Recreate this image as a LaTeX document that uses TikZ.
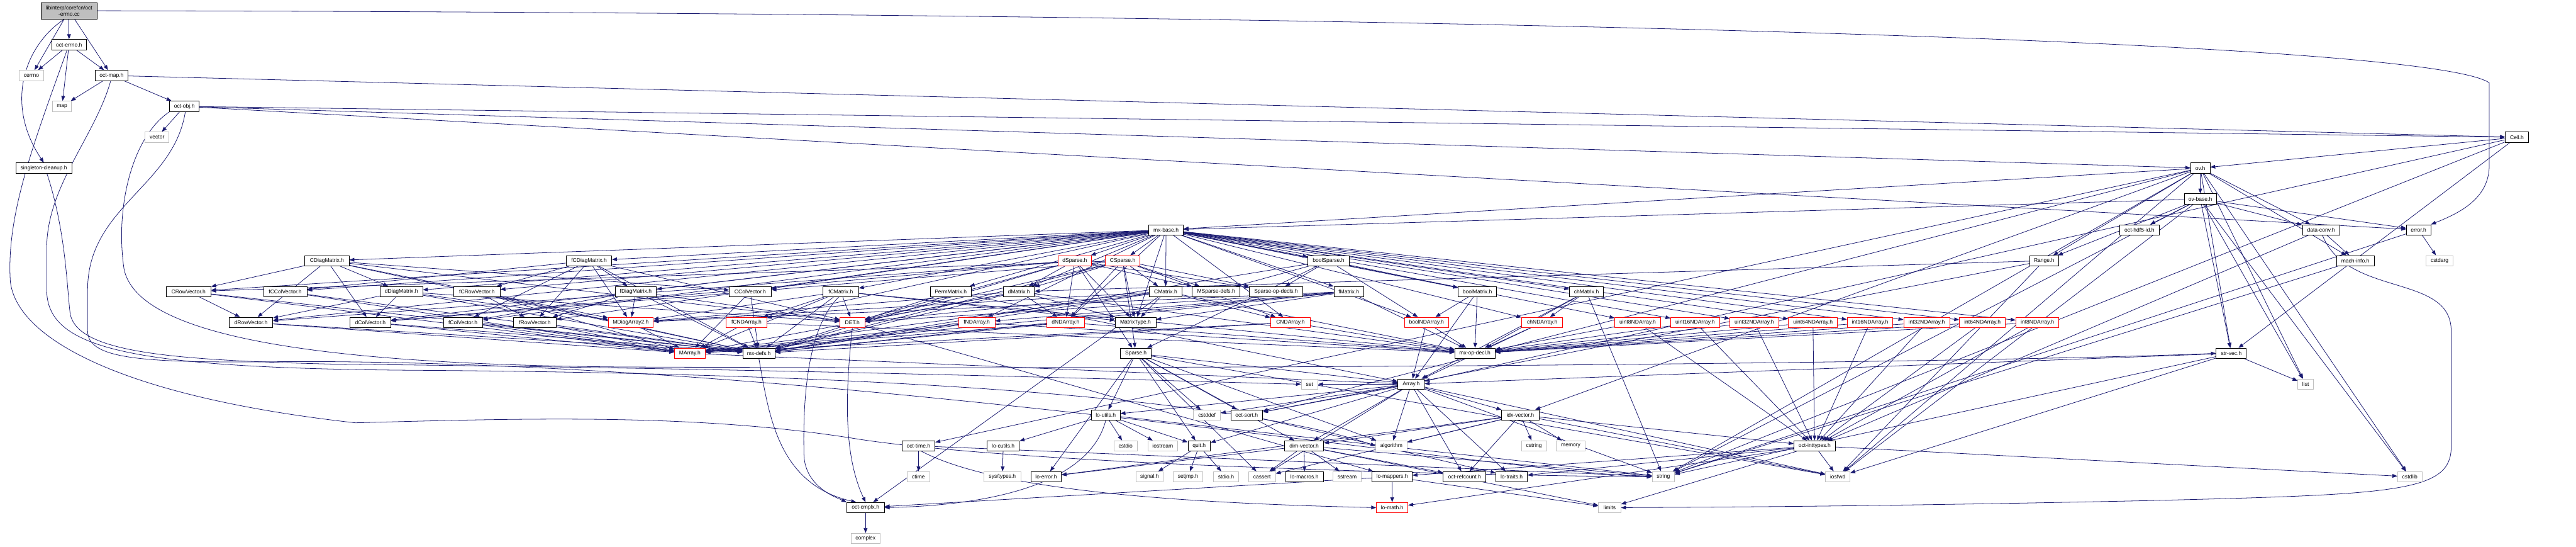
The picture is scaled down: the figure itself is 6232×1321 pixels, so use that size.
\documentclass[tikz,border=0pt]{standalone}
\usepackage{fontspec}
\setmainfont{Liberation Sans}
\usetikzlibrary{arrows.meta}
\definecolor{edgec}{RGB}{25,25,112}
\definecolor{grayb}{RGB}{191,191,191}
\pgfdeclarelayer{edges}
\pgfsetlayers{edges,main}
\newcommand\edgesfrom[2]{\foreach \tgt in {#2}{\draw[e] (#1) -- (\tgt);}}
\begin{document}
\begin{tikzpicture}[x=1pt,y=-1pt,
 nb/.style={draw=black, line width=1.3pt, fill=white, minimum height=25pt, inner sep=0pt, font=\fontsize{13pt}{15pt}\selectfont},
 gb/.style={nb, draw=grayb},
 rb/.style={nb, draw=red},
 rootb/.style={nb, fill=grayb, minimum height=40pt, align=center, font=\fontsize{13pt}{15.5pt}\selectfont},
 e/.style={draw=edgec, line width=1.2pt, -{Triangle[length=12pt,width=9pt]}}]
\useasboundingbox (0,0) rectangle (6232,1321);
% rank 0-6
\node[rootb, minimum width=136pt] (root) at (167,26) {libinterp/corefcn/oct\\-errno.cc};
\node[nb, minimum width=84pt] (oeh) at (167,108) {oct-errno.h};
\node[gb, minimum width=58pt] (cerrno) at (76,182.6) {cerrno};
\node[nb, minimum width=80pt] (omap) at (270,182.6) {oct-map.h};
\node[gb, minimum width=46pt] (map) at (150,257.2) {map};
\node[nb, minimum width=72pt] (oobj) at (446,257.2) {oct-obj.h};
\node[gb, minimum width=58pt] (vector) at (380,331.8) {vector};
\node[nb, minimum width=56pt] (cell) at (6089,331.8) {Cell.h};
\node[nb, minimum width=135pt] (sc) at (106,406.4) {singleton-cleanup.h};
\node[nb, minimum width=47pt] (ov) at (5323,406.4) {ov.h};
\node[nb, minimum width=78pt] (ovb) at (5323,481) {ov-base.h};
% rank 7
\node[nb, minimum width=83pt] (mxb) at (2821,555.6) {mx-base.h};
\node[nb, minimum width=95pt] (hdf) at (5176,555.6) {oct-hdf5-id.h};
\node[nb, minimum width=90pt] (dconv) at (5615,555.6) {data-conv.h};
\node[nb, minimum width=59pt] (err) at (5851,555.6) {error.h};
% rank 8
\node[nb, minimum width=107pt] (cdm) at (791,630.2) {CDiagMatrix.h};
\node[nb, minimum width=110pt] (fcdm) at (1425,630.2) {fCDiagMatrix.h};
\node[rb, minimum width=80pt] (dsp) at (2600,630.2) {dSparse.h};
\node[rb, minimum width=83pt] (csp) at (2716,630.2) {CSparse.h};
\node[nb, minimum width=99pt] (bsp) at (3214,630.2) {boolSparse.h};
\node[nb, minimum width=70pt] (range) at (4945,630.2) {Range.h};
\node[nb, minimum width=91pt] (mach) at (5698,630.2) {mach-info.h};
\node[gb, minimum width=65pt] (cstdarg) at (5902,630.2) {cstdarg};
% rank 9
\node[nb, minimum width=108pt] (crv) at (456,704.8) {CRowVector.h};
\node[nb, minimum width=105pt] (fccv) at (690,704.8) {fCColVector.h};
\node[nb, minimum width=103pt] (ddm) at (971,704.8) {dDiagMatrix.h};
\node[nb, minimum width=112pt] (fcrv) at (1154,704.8) {fCRowVector.h};
\node[nb, minimum width=100pt] (fdm) at (1538,704.8) {fDiagMatrix.h};
\node[nb, minimum width=101pt] (ccv) at (1815,704.8) {CColVector.h};
\node[nb, minimum width=86pt] (fcm) at (2034,704.8) {fCMatrix.h};
\node[nb, minimum width=99pt] (perm) at (2300,704.8) {PermMatrix.h};
\node[nb, minimum width=75pt] (dm) at (2465,704.8) {dMatrix.h};
\node[nb, minimum width=78pt] (cm) at (2820,704.8) {CMatrix.h};
\node[nb, minimum width=115pt] (msd) at (2942,704.8) {MSparse-defs.h};
\node[nb, minimum width=128pt] (sod) at (3087,704.8) {Sparse-op-decls.h};
\node[nb, minimum width=72pt] (fm) at (3263,704.8) {fMatrix.h};
\node[nb, minimum width=92pt] (bm) at (3574,704.8) {boolMatrix.h};
\node[nb, minimum width=82pt] (chm) at (3838,704.8) {chMatrix.h};
% rank 10
\node[nb, minimum width=106pt] (drv) at (607,779.4) {dRowVector.h};
\node[nb, minimum width=98pt] (dcv) at (896,779.4) {dColVector.h};
\node[nb, minimum width=94pt] (fcv) at (1120,779.4) {fColVector.h};
\node[nb, minimum width=103pt] (frv) at (1294,779.4) {fRowVector.h};
\node[rb, minimum width=109pt] (mda) at (1526,779.4) {MDiagArray2.h};
\node[rb, minimum width=98pt] (fcnd) at (1806,779.4) {fCNDArray.h};
\node[rb, minimum width=60pt] (det) at (2062,779.4) {DET.h};
\node[rb, minimum width=88pt] (fnd) at (2363,779.4) {fNDArray.h};
\node[rb, minimum width=91pt] (dnd) at (2578,779.4) {dNDArray.h};
\node[nb, minimum width=99pt] (mt) at (2747,779.4) {MatrixType.h};
\node[rb, minimum width=96pt] (cnd) at (3122,779.4) {CNDArray.h};
\node[rb, minimum width=107pt] (bnd) at (3451,779.4) {boolNDArray.h};
\node[rb, minimum width=99pt] (chnd) at (3731,779.4) {chNDArray.h};
\node[rb, minimum width=111pt] (u8) at (3962,779.4) {uint8NDArray.h};
\node[rb, minimum width=118pt] (u16) at (4101,779.4) {uint16NDArray.h};
\node[rb, minimum width=118pt] (u32) at (4244,779.4) {uint32NDArray.h};
\node[rb, minimum width=119pt] (u64) at (4386,779.4) {uint64NDArray.h};
\node[rb, minimum width=111pt] (i16) at (4524,779.4) {int16NDArray.h};
\node[rb, minimum width=111pt] (i32) at (4661,779.4) {int32NDArray.h};
\node[rb, minimum width=111pt] (i64) at (4796,779.4) {int64NDArray.h};
\node[rb, minimum width=104pt] (i8) at (4929,779.4) {int8NDArray.h};
% rank 11
\node[rb, minimum width=74pt] (marr) at (1669,854) {MArray.h};
\node[nb, minimum width=78pt] (mxd) at (1836,854) {mx-defs.h};
\node[nb, minimum width=74pt] (sparse) at (2748,854) {Sparse.h};
\node[nb, minimum width=97pt] (mxo) at (3568,854) {mx-op-decl.h};
\node[nb, minimum width=73pt] (sv) at (5398,854) {str-vec.h};
% rank 12
\node[gb, minimum width=40pt] (set) at (3168,928.6) {set};
\node[nb, minimum width=64pt] (arr) at (3414,928.6) {Array.h};
\node[gb, minimum width=38pt] (list) at (5578,928.6) {list};
% rank 13
\node[nb, minimum width=70pt] (lu) at (2675,1003.2) {lo-utils.h};
\node[gb, minimum width=65pt] (cstddef) at (2920,1003.2) {cstddef};
\node[nb, minimum width=77pt] (osort) at (3016,1003.2) {oct-sort.h};
\node[nb, minimum width=90pt] (idx) at (3678,1003.2) {idx-vector.h};
% rank 14
\node[nb, minimum width=80pt] (otime) at (2222,1077.8) {oct-time.h};
\node[nb, minimum width=78pt] (lcu) at (2427,1077.8) {lo-cutils.h};
\node[gb, minimum width=56pt] (cstdio) at (2723,1077.8) {cstdio};
\node[gb, minimum width=72pt] (iostream) at (2813,1077.8) {iostream};
\node[nb, minimum width=54pt] (quit) at (2901,1077.8) {quit.h};
\node[nb, minimum width=95pt] (dimv) at (3155,1077.8) {dim-vector.h};
\node[gb, minimum width=75pt] (alg) at (3366,1077.8) {algorithm};
\node[gb, minimum width=61pt] (cstring) at (3711,1077.8) {cstring};
\node[gb, minimum width=69pt] (memory) at (3800,1077.8) {memory};
\node[nb, minimum width=100pt] (oit) at (4390,1077.8) {oct-inttypes.h};
% rank 15
\node[gb, minimum width=55pt] (ctime) at (2222,1152.4) {ctime};
\node[gb, minimum width=90pt] (systypes) at (2425,1152.4) {sys/types.h};
\node[nb, minimum width=73pt] (lerr) at (2531,1152.4) {lo-error.h};
\node[gb, minimum width=66pt] (signal) at (2781,1152.4) {signal.h};
\node[gb, minimum width=72pt] (setjmp) at (2874,1152.4) {setjmp.h};
\node[gb, minimum width=61pt] (stdioh) at (2966,1152.4) {stdio.h};
\node[gb, minimum width=65pt] (cassert) at (3053,1152.4) {cassert};
\node[nb, minimum width=91pt] (lmac) at (3156,1152.4) {lo-macros.h};
\node[gb, minimum width=68pt] (sstream) at (3259,1152.4) {sstream};
\node[nb, minimum width=97pt] (lmap) at (3368,1152.4) {lo-mappers.h};
\node[nb, minimum width=103pt] (orc) at (3543,1152.4) {oct-refcount.h};
\node[nb, minimum width=76pt] (ltr) at (3657,1152.4) {lo-traits.h};
\node[gb, minimum width=54pt] (string) at (4024,1152.4) {string};
\node[gb, minimum width=59pt] (iosfwd) at (4446,1152.4) {iosfwd};
\node[gb, minimum width=59pt] (cstdlib) at (5830,1152.4) {cstdlib};
% rank 16-17
\node[nb, minimum width=91pt] (ocx) at (2094,1227) {oct-cmplx.h};
\node[rb, minimum width=76pt] (lmath) at (3368,1227) {lo-math.h};
\node[gb, minimum width=54pt] (limits) at (3894,1227) {limits};
\node[gb, minimum width=71pt] (complex) at (2094,1301.6) {complex};

\begin{pgfonlayer}{edges}
\edgesfrom{root}{oeh,cerrno,omap}
\edgesfrom{oeh}{cerrno,map,omap}
\edgesfrom{omap}{map,oobj,cell}
\edgesfrom{oobj}{vector,cell,ov,err}
\edgesfrom{cell}{ov,sv,arr,string}
\edgesfrom{ov}{ovb,dconv,mach,mxb,sv,idx,otime,osort,list,cstdlib,iosfwd,string,range}
\edgesfrom{ovb}{mxb,hdf,dconv,err,range,sv,list,string,iosfwd,cstdlib}
\edgesfrom{dconv}{mach,oit}
\edgesfrom{mach}{string}
\edgesfrom{err}{cstdarg,string}
\edgesfrom{range}{dm,osort,iosfwd}
\edgesfrom{mxb}{mt,bm,chm,dm,cm,fm,fcm,dcv,ccv,fcv,fccv,drv,crv,frv,fcrv,ddm,cdm,fdm,fcdm,perm,bnd,chnd,dnd,cnd,fnd,fcnd,i8,i16,i32,i64,u8,u16,u32,u64,bsp,dsp,csp}
\edgesfrom{cdm}{crv,ccv,drv,dcv,ddm,mda,det,mxd}
\edgesfrom{fcdm}{fcrv,fccv,frv,fcv,fdm,mda,det,mxd}
\edgesfrom{crv}{drv,marr,mxd}
\edgesfrom{fccv}{marr,mxd}
\edgesfrom{ddm}{drv,dcv,mda,det,mxd}
\edgesfrom{drv}{marr,mxd}
\edgesfrom{dcv}{marr,mxd}
\edgesfrom{fcrv}{frv,marr,mxd}
\edgesfrom{fdm}{frv,fcv,mda,det,mxd}
\edgesfrom{ccv}{dcv,marr,mxd}
\edgesfrom{fcm}{fcnd,marr,mda,mt,det,mxd,mxo}
\edgesfrom{fcv}{marr,mxd}
\edgesfrom{frv}{marr,mxd}
\edgesfrom{mda}{marr}
\edgesfrom{fcnd}{marr,mxd,mxo}
\edgesfrom{det}{lmap}
\edgesfrom{perm}{arr,mxd}
\edgesfrom{dm}{dnd,mt,marr,mda,det,mxd,mxo}
\edgesfrom{fnd}{marr,mxd,mxo}
\edgesfrom{dnd}{marr,mxd,mxo}
\edgesfrom{cm}{cnd,mt,marr,mda,det,mxd,mxo,ocx}
\edgesfrom{cnd}{marr,mxd,mxo}
\edgesfrom{dsp}{dm,dnd,dcv,drv,det,msd,sod,mt,sparse,mxd}
\edgesfrom{csp}{cm,cnd,ccv,crv,dm,dnd,det,msd,sod,mt,sparse,mxd}
\edgesfrom{bsp}{bm,bnd,sparse,msd,sod,mxd}
\edgesfrom{fm}{fnd,mt,marr,mda,det,mxd,mxo}
\edgesfrom{bm}{bnd,mxo,arr}
\edgesfrom{chm}{chnd,mxo,arr,string}
\edgesfrom{bnd}{arr,mxo}
\edgesfrom{chnd}{arr,mxo}
\foreach \s in {u8,u16,u32,u64,i8,i16,i32,i64}{\edgesfrom{\s}{oit,mxo}}
\edgesfrom{sparse}{arr,lu,cstddef,osort,cassert,lerr,alg,iosfwd,quit,dimv}
\edgesfrom{marr}{arr}
\edgesfrom{sv}{list,string,iosfwd,arr}
\edgesfrom{arr}{idx,dimv,alg,orc,ltr,lu,osort,cassert,cstddef,iosfwd,quit,string,set}
\edgesfrom{idx}{dimv,alg,cstring,memory,orc,oit,cassert,iosfwd,lerr}
\edgesfrom{lu}{lcu,cstdio,iostream,quit,string}
\edgesfrom{osort}{ltr}
\edgesfrom{quit}{signal,setjmp,stdioh}
\edgesfrom{lcu}{systypes}
\edgesfrom{otime}{ctime,string}
\edgesfrom{dimv}{lmac,sstream,orc,lerr,cassert,limits,string}
\edgesfrom{oit}{iosfwd,ltr,lmap,limits,cstdlib,lmath}
\edgesfrom{lmap}{lmath,limits,ocx}
\edgesfrom{ocx}{complex}
% curved long connectors
\draw[e] (root.240) .. controls (60,110) and (10,250) .. (sc.north);
\draw[e] (root.east) .. controls (3000,30) and (5850,85) .. (6022,200) -- (6022,400) .. controls (6022,480) and (5950,515) .. (err.north east);
\draw[e] (oeh.250) .. controls (80,350) and (15,520) .. (25,680) .. controls (40,820) and (300,960) .. (860,1022) .. controls (1300,1010) and (1700,1000) .. (2080,1062) .. controls (2500,1125) and (3600,1150) .. (string.west);
\draw[e] (omap.260) .. controls (230,330) and (113,450) .. (113,600) -- (113,700) .. controls (113,840) and (300,890) .. (1000,895) .. controls (2500,905) and (3100,1000) .. (alg.west);
\draw[e] (oobj.200) .. controls (320,330) and (278,500) .. (300,650) .. controls (330,800) and (700,880) .. (1500,887) .. controls (3500,895) and (5000,870) .. (sv.west);
\draw[e] (oobj.-80) .. controls (420,450) and (212,500) .. (212,700) -- (212,800) .. controls (212,870) and (350,878) .. (700,874) .. controls (2000,870) and (3600,1140) .. (string.west);
\draw[e] (sc.-60) .. controls (160,560) and (162,700) .. (170,760) .. controls (190,850) and (400,870) .. (800,880) .. controls (2000,892) and (3000,926) .. (set.west);
\draw[e] (dconv.-75) .. controls (5680,720) and (5930,660) .. (5930,800) -- (5930,1080) .. controls (5930,1190) and (5800,1195) .. (5200,1210) .. controls (4500,1225) and (4100,1226) .. (limits.east);
\draw[e] (fcm.250) .. controls (1945,800) and (1943,1000) .. (1945,1100) .. controls (1948,1180) and (2030,1205) .. (ocx.north west);
\draw[e] (mxd.south) .. controls (1860,1000) and (1880,1170) .. (ocx.150);
\draw[e] (det.south) .. controls (2045,950) and (2040,1100) .. (ocx.north);
\draw[e] (lu.south) .. controls (2640,1150) and (2450,1220) .. (ocx.east);
\draw[e] (otime.-60) .. controls (2400,1180) and (2800,1215) .. (lmath.west);
\end{pgfonlayer}
\end{tikzpicture}
\end{document}
